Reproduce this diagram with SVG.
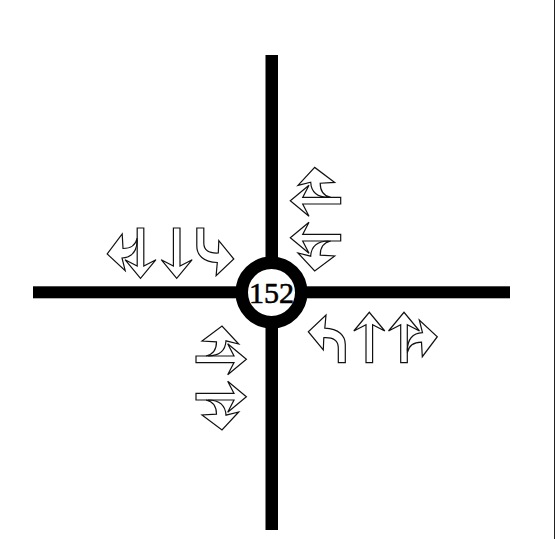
<svg xmlns="http://www.w3.org/2000/svg" width="555" height="539" viewBox="0 0 555 539">
<style>
.a{fill:none;stroke:#111;stroke-width:1.2;stroke-linejoin:miter}
.r{fill:#000}
.c{fill:#fff;stroke:#000;stroke-width:12.500}
.t{font-family:"Liberation Serif","Times New Roman",serif;font-size:30px;fill:#000;stroke:#000;stroke-width:.6;text-anchor:middle}
</style>
<defs>
<path id="s" class="a" d="M-3.300 0V-38L-15.500 -31.700L0 -50.400L15.500 -31.700L3.300 -38V0Z"/>
<path id="l" class="a" d="M3.500 0V-18C3.500 -27 -3 -34 -17 -34.500L-15.800 -47.700L-33.500 -31L-18.500 -12.700L-18 -25C-8 -25.500 -3.500 -22 -3.500 -15V0Z"/>
<path id="br" class="a" d="M3.300 -12C3.500 -24 9 -29.500 18.500 -30L15.300 -42.700L33.300 -26L18.300 -6L17.500 -20.500C10 -20.500 5 -18 3.300 -10"/>
<path id="bl" class="a" d="M-3.300 -12C-3.500 -24 -9 -29.500 -18.500 -30L-15.300 -42.700L-33.300 -26L-18.300 -6L-17.500 -20.500C-10 -20.500 -5 -18 -3.300 -10"/>
</defs>
<rect x="554" y="0" width="1" height="539" fill="#222"/>
<g id="connectors">
<rect class="r" x="265.500" y="55" width="12.500" height="475"/>
<rect class="r" x="33" y="286.300" width="477" height="12"/>
</g>
<g id="node-152">
<circle class="c" cx="271.500" cy="292.500" r="29.750"/>
<text class="t" x="271.500" y="302.800">152</text>
</g>
<g id="arrows-north">
<use href="#s" transform="translate(140.500 228) rotate(180)"/>
<use href="#br" transform="translate(140.500 228) rotate(180)"/>
<use href="#s" transform="translate(176.700 228) rotate(180)"/>
<use href="#l" transform="translate(200.300 228) rotate(180)"/>
</g>
<g id="arrows-east">
<use href="#s" transform="translate(340.700 200.700) rotate(-90)"/>
<use href="#br" transform="translate(340.700 200.700) rotate(-90)"/>
<use href="#s" transform="translate(340.700 237.700) rotate(-90)"/>
<use href="#bl" transform="translate(340.700 237.700) rotate(-90)"/>
</g>
<g id="arrows-south">
<use href="#l" transform="translate(341.800 362.700)"/>
<use href="#s" transform="translate(369.300 362.700)"/>
<use href="#s" transform="translate(404 362.700)"/>
<use href="#br" transform="translate(404 362.700)"/>
</g>
<g id="arrows-west">
<use href="#s" transform="translate(196 359.300) rotate(90)"/>
<use href="#bl" transform="translate(196 359.300) rotate(90)"/>
<use href="#s" transform="translate(196 396.700) rotate(90)"/>
<use href="#br" transform="translate(196 396.700) rotate(90)"/>
</g>
</svg>
